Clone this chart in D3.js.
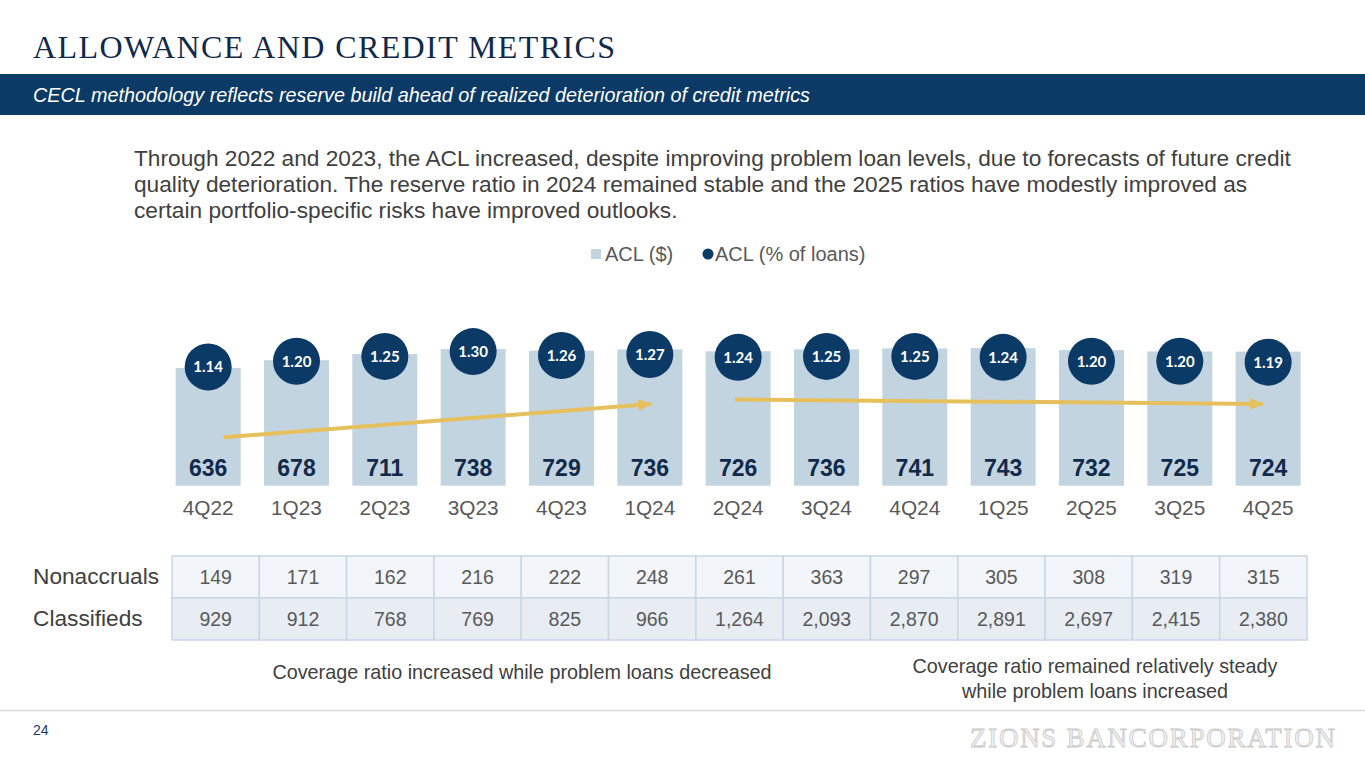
<!DOCTYPE html>
<html>
<head>
<meta charset="utf-8">
<script src="https://cdn.jsdelivr.net/npm/d3@7"></script>
<style>
  body { margin: 0; background: #fff; }
  svg { display: block; }
  .sans { font-family: Arial, "Liberation Sans", sans-serif; }
</style>
</head>
<body>
<svg id="chart"></svg>
<script>
// chart data
const quarters = ['4Q22', '1Q23', '2Q23', '3Q23', '4Q23', '1Q24', '2Q24', '3Q24', '4Q24', '1Q25', '2Q25', '3Q25', '4Q25']
const aclDollars = [636, 678, 711, 738, 729, 736, 726, 736, 741, 743, 732, 725, 724]
const aclPct = ['1.14', '1.20', '1.25', '1.30', '1.26', '1.27', '1.24', '1.25', '1.25', '1.24', '1.20', '1.20', '1.19']
const nonaccruals = ['149', '171', '162', '216', '222', '248', '261', '363', '297', '305', '308', '319', '315']
const classifieds = ['929', '912', '768', '769', '825', '966', '1,264', '2,093', '2,870', '2,891', '2,697', '2,415', '2,380']
const rowLabels = ['Nonaccruals', 'Classifieds']

const w = 1365
const h = 768
const navy = '#0b3a66'
const barColor = '#c3d4e1'
const gold = '#e6c05c'
const grey = '#595959'

const svg = d3.select('#chart')
  .attr('width', w)
  .attr('height', h)

// header
svg.append('text')
  .attr('x', 33)
  .attr('y', 58)
  .attr('textLength', 582)
  .attr('lengthAdjust', 'spacing')
  .style('font-family', '"Liberation Serif", "DejaVu Serif", serif')
  .style('font-size', '32px')
  .attr('fill', '#11294a')
  .text('ALLOWANCE AND CREDIT METRICS')

svg.append('rect')
  .attr('x', 0)
  .attr('y', 74)
  .attr('width', w)
  .attr('height', 41)
  .attr('fill', navy)

svg.append('text')
  .attr('class', 'sans')
  .attr('x', 33)
  .attr('y', 102)
  .attr('fill', '#fff')
  .style('font-size', '19.8px')
  .style('font-style', 'italic')
  .text('CECL methodology reflects reserve build ahead of realized deterioration of credit metrics')

// intro paragraph
const intro = [
  'Through 2022 and 2023, the ACL increased, despite improving problem loan levels, due to forecasts of future credit',
  'quality deterioration. The reserve ratio in 2024 remained stable and the 2025 ratios have modestly improved as',
  'certain portfolio-specific risks have improved outlooks.'
]
svg.append('g').selectAll('text')
  .data(intro)
  .enter()
  .append('text')
  .attr('class', 'sans')
  .attr('x', 134)
  .attr('y', (d, i) => 166 + i * 26)
  .attr('fill', '#404040')
  .style('font-size', '22.7px')
  .text(d => d)

// legend
const legend = svg.append('g').attr('class', 'sans').style('font-size', '20px')
legend.append('rect')
  .attr('x', 591).attr('y', 249).attr('width', 10).attr('height', 10)
  .attr('fill', barColor)
legend.append('text')
  .attr('x', 605).attr('y', 261).attr('fill', grey)
  .text('ACL ($)')
legend.append('circle')
  .attr('cx', 708).attr('cy', 254).attr('r', 5.5)
  .attr('fill', navy)
legend.append('text')
  .attr('x', 715).attr('y', 261).attr('fill', grey)
  .text('ACL (% of loans)')

// scales
const xScale = d3.scaleBand()
  .domain(quarters)
  .range([164, 1312.3])
  .paddingInner(0.264)
  .paddingOuter(0.132)

const yScale = d3.scaleLinear()
  .domain([0, 1000])
  .range([485.7, 300.5])

const pctScale = d3.scaleLinear()
  .domain([1.0, 1.5])
  .range([380.4, 332.4])

// category axis (labels only)
const xAxis = d3.axisBottom(xScale).tickSize(0).tickPadding(0)
svg.append('g')
  .attr('transform', 'translate(0, 500)')
  .call(xAxis)
  .call(g => g.select('.domain').remove())
  .call(g => g.selectAll('text')
    .attr('dy', '0.7em')
    .attr('fill', grey)
    .style('font-family', 'Arial, "Liberation Sans", sans-serif')
    .style('font-size', '20.8px'))

// bars
svg.append('g').selectAll('rect')
  .data(aclDollars)
  .enter()
  .append('rect')
  .attr('x', (d, i) => xScale(quarters[i]))
  .attr('y', d => yScale(d))
  .attr('width', xScale.bandwidth())
  .attr('height', d => yScale(0) - yScale(d))
  .attr('fill', barColor)

svg.append('g').selectAll('text')
  .data(aclDollars)
  .enter()
  .append('text')
  .attr('class', 'sans')
  .attr('x', (d, i) => xScale(quarters[i]) + xScale.bandwidth() / 2)
  .attr('y', 476)
  .attr('text-anchor', 'middle')
  .attr('fill', '#11294a')
  .style('font-size', '23px')
  .style('font-weight', 'bold')
  .text(d => d)

// trend arrows, in data units: quarter, share of band, ACL value
const arrows = [
  { from: ['4Q22', 0.74, 261], to: ['1Q24', 0.52, 441] },
  { from: ['2Q24', 0.45, 466], to: ['4Q25', 0.42, 441] }
]

svg.append('defs').append('marker')
  .attr('id', 'head')
  .attr('markerUnits', 'userSpaceOnUse')
  .attr('markerWidth', 14)
  .attr('markerHeight', 12)
  .attr('refX', 13)
  .attr('refY', 6)
  .attr('orient', 'auto')
  .append('path')
  .attr('d', 'M0,0 L14,6 L0,12 Z')
  .attr('fill', gold)

const ax = (p) => xScale(p[0]) + xScale.bandwidth() * p[1]

svg.append('g').selectAll('line')
  .data(arrows)
  .enter()
  .append('line')
  .attr('x1', d => ax(d.from))
  .attr('y1', d => yScale(d.from[2]))
  .attr('x2', d => ax(d.to))
  .attr('y2', d => yScale(d.to[2]))
  .attr('stroke', gold)
  .attr('stroke-width', 4)
  .attr('marker-end', 'url(#head)')

// ratio bubbles
const bubbles = svg.append('g').selectAll('g')
  .data(aclPct)
  .enter()
  .append('g')
  .attr('transform', (d, i) => `translate(${xScale(quarters[i]) + xScale.bandwidth() / 2}, ${pctScale(+d)})`)

bubbles.append('circle')
  .attr('r', 23.5)
  .attr('fill', navy)

bubbles.append('text')
  .attr('text-anchor', 'middle')
  .attr('dy', '0.36em')
  .attr('fill', '#fff')
  .style('font-family', 'Lato, "Open Sans", sans-serif')
  .style('font-size', '15px')
  .style('font-weight', 'bold')
  .text(d => d)

// problem loan table
const tableX = d3.scaleBand()
  .domain(quarters)
  .range([172, 1307])

const rows = [nonaccruals, classifieds]
const rowTop = [556, 598]
const rowH = 42
const rowFill = ['#f2f5f9', '#e7edf3']

rows.forEach((row, r) => {
  const g = svg.append('g')
  g.selectAll('rect')
    .data(row)
    .enter()
    .append('rect')
    .attr('x', (d, i) => tableX(quarters[i]))
    .attr('y', rowTop[r])
    .attr('width', tableX.bandwidth())
    .attr('height', rowH)
    .attr('fill', rowFill[r])
    .attr('stroke', '#c9d6e3')
    .attr('stroke-width', 1.5)

  g.selectAll('text')
    .data(row)
    .enter()
    .append('text')
    .attr('class', 'sans')
    .attr('x', (d, i) => tableX(quarters[i]) + tableX.bandwidth() / 2)
    .attr('y', rowTop[r] + 28)
    .attr('text-anchor', 'middle')
    .attr('fill', grey)
    .style('font-size', '19.5px')
    .text(d => d)

  svg.append('text')
    .attr('class', 'sans')
    .attr('x', 33)
    .attr('y', rowTop[r] + 28)
    .attr('fill', '#404040')
    .style('font-size', '22.7px')
    .text(rowLabels[r])
})

// notes under the table
const notes = svg.append('g')
  .attr('class', 'sans')
  .attr('text-anchor', 'middle')
  .attr('fill', '#404040')
  .style('font-size', '19.8px')

notes.append('text')
  .attr('x', 522).attr('y', 679)
  .text('Coverage ratio increased while problem loans decreased')
notes.append('text')
  .attr('x', 1095).attr('y', 673)
  .text('Coverage ratio remained relatively steady')
notes.append('text')
  .attr('x', 1095).attr('y', 698)
  .text('while problem loans increased')

// footer
svg.append('line')
  .attr('x1', 0).attr('x2', w)
  .attr('y1', 710.5).attr('y2', 710.5)
  .attr('stroke', '#d9d9d9')
  .attr('stroke-width', 1.5)

svg.append('text')
  .attr('class', 'sans')
  .attr('x', 33)
  .attr('y', 735)
  .attr('fill', '#1f3864')
  .style('font-size', '14px')
  .text('24')

svg.append('text')
  .attr('x', 970)
  .attr('y', 747)
  .attr('textLength', 365)
  .attr('lengthAdjust', 'spacing')
  .attr('fill', '#f4f4f4')
  .attr('stroke', '#c8c8c8')
  .attr('stroke-width', 0.8)
  .style('font-family', '"Liberation Serif", "DejaVu Serif", serif')
  .style('font-size', '27px')
  .text('ZIONS BANCORPORATION')
</script>
</body>
</html>
